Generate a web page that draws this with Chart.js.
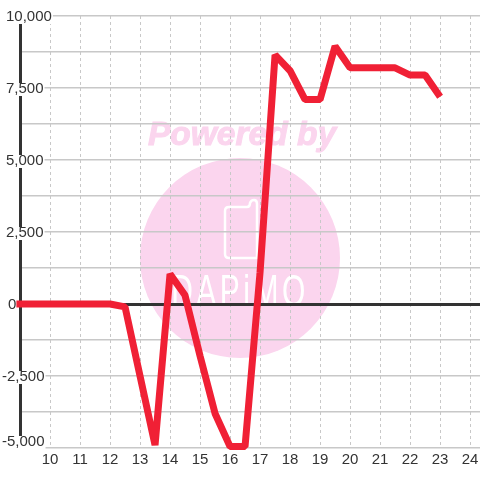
<!DOCTYPE html>
<html>
<head>
<meta charset="utf-8">
<style>
html, body { margin: 0; padding: 0; background: #fff; }
#wrap { width: 480px; height: 480px; }
</style>
<script src="https://cdn.jsdelivr.net/npm/chart.js@4"></script>
</head>
<body>
<div id="wrap"><canvas id="grafico" width="480" height="480"></canvas></div>
<script>
const hours = [8.88, 9.5, 10, 10.5, 11, 11.5, 12, 12.5, 13, 13.5, 14, 14.5, 15, 15.5, 16, 16.5, 17, 17.5, 18, 18.5, 19, 19.5, 20, 20.5, 21, 21.5, 22, 22.5, 23];
const values = [0, 0, 0, 0, 0, 0, 0, -100, -2500, -4900, 1040, 300, -1800, -3800, -4950, -4950, 1100, 8650, 8100, 7100, 7100, 8950, 8200, 8200, 8200, 8200, 7950, 7950, 7200];
const yLabels = [10000, 7500, 5000, 2500, 0, -2500, -5000];

const fmt = v => v.toLocaleString('en-US');

// watermark goes first, the grid has to show on top of it
const watermark = {
    id: 'watermark',
    beforeDraw(chart) {
        const c = chart.ctx;
        c.save();
        c.fillStyle = '#fbd5ee';
        c.beginPath();
        c.arc(240, 258, 100, 0, Math.PI * 2);
        c.fill();
        c.font = 'italic bold 33.5px "Liberation Sans"';
        c.textAlign = 'center';
        c.textBaseline = 'alphabetic';
        c.fillText('Powered by', 242, 145);
        c.strokeStyle = '#fbd5ee';
        c.lineWidth = 1;
        c.strokeText('Powered by', 242, 145);

        // phone shape of the logo
        c.strokeStyle = '#fff';
        c.lineWidth = 2.5;
        c.lineJoin = 'round';
        c.beginPath();
        c.moveTo(229, 207);
        c.lineTo(247, 207);
        c.quadraticCurveTo(250, 207, 250, 203);
        c.quadraticCurveTo(251, 200, 254, 200);
        c.quadraticCurveTo(257, 200, 257, 204);
        c.lineTo(257, 258);
        c.lineTo(229, 258);
        c.quadraticCurveTo(225, 258, 225, 254);
        c.lineTo(225, 211);
        c.quadraticCurveTo(225, 207, 229, 207);
        c.stroke();

        c.fillStyle = '#fff';
        c.translate(240, 306);
        c.scale(1, 1.5);
        c.font = '30px "Liberation Sans"';
        c.letterSpacing = '3.5px';
        c.fillText('DAPiMO', 0, 0);
        c.restore();
    }
};

// y labels have a white box behind them, so they cut the grid and the axis
const yLabelPlugin = {
    id: 'yLabelPlugin',
    afterDraw(chart) {
        const c = chart.ctx;
        const sy = chart.scales.y;
        c.save();
        c.font = '15px "Liberation Sans"';
        c.textBaseline = 'middle';
        c.textAlign = 'left';
        yLabels.forEach(v => {
            const t = fmt(v);
            let y = sy.getPixelForValue(v);
            if (v === -5000) y -= 7;
            const x = v < 0 ? 2 : (v === 0 ? 8 : 6);
            const w = c.measureText(t).width;
            if (v !== 0) {
                c.fillStyle = '#fff';
                c.fillRect(x, y - 5, w + 1, 13);
            }
            c.fillStyle = '#333';
            c.fillText(t, x, y + 1);
        });
        c.restore();
    }
};

new Chart(document.getElementById('grafico').getContext('2d'), {
    type: 'line',
    data: {
        labels: hours,
        datasets: [{
            data: hours.map((h, i) => ({ x: h, y: values[i] })),
            borderColor: '#f02035',
            borderWidth: 7,
            pointRadius: 0,
            tension: 0,
            borderCapStyle: 'butt',
            borderJoinStyle: 'bevel',
            clip: { left: 4, top: 0, right: 0, bottom: 2 }
        }]
    },
    plugins: [watermark, yLabelPlugin],
    options: {
        responsive: false,
        animation: false,
        layout: { padding: { top: 16, right: 0, bottom: 7, left: 20 } },
        plugins: { legend: { display: false }, tooltip: { enabled: false } },
        scales: {
            x: {
                type: 'linear',
                position: 'bottom',
                min: 9,
                max: 24.33,
                afterBuildTicks(axis) {
                    axis.ticks = [];
                    for (let h = 10; h <= 24; h++) axis.ticks.push({ value: h });
                },
                afterFit(axis) {
                    axis.paddingLeft = 0;
                    axis.paddingRight = 0;
                    axis.height = 25;
                },
                grid: { color: '#c8c8c8', lineWidth: 1, drawTicks: false },
                border: { display: false, dash: [3, 3] },
                ticks: {
                    color: '#333',
                    font: { family: '"Liberation Sans"', size: 15 },
                    maxRotation: 0,
                    padding: 3,
                    callback: v => String(v)
                }
            },
            y: {
                min: -5000,
                max: 10000,
                afterBuildTicks(axis) {
                    axis.ticks = [];
                    for (let v = -5000; v <= 10000; v += 1250) axis.ticks.push({ value: v });
                },
                grid: {
                    color: ctx => ctx.tick.value === 0 ? '#333' : '#c8c8c8',
                    lineWidth: ctx => ctx.tick.value === 0 ? 3 : 1.5,
                    drawTicks: false
                },
                border: { display: true, color: '#333', width: 3 },
                ticks: { display: false }
            }
        }
    }
});
</script>
</body>
</html>
